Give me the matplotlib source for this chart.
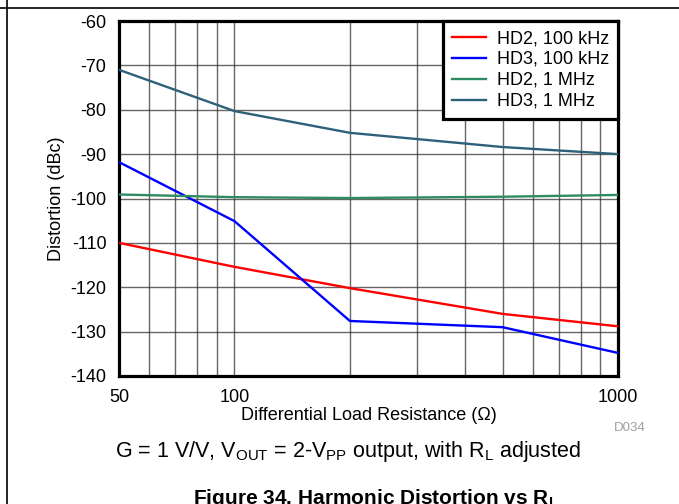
import matplotlib
matplotlib.use("Agg")
import matplotlib.pyplot as plt
from matplotlib.ticker import FixedLocator, NullFormatter

plt.rcParams['font.family'] = ['Liberation Sans', 'DejaVu Sans']

# load resistance (ohm)
r_load = [50, 100, 200, 500, 1000]
hd2_100k = [-110.0, -115.4, -120.2, -126.0, -128.8]
hd3_100k = [-91.8, -105.1, -127.6, -129.0, -134.8]
hd2_1m = [-99.1, -99.7, -99.9, -99.6, -99.2]
hd3_1m = [-71.0, -80.3, -85.2, -88.4, -90.0]

series = [
    ("HD2, 100 kHz", hd2_100k, "#ff0000"),
    ("HD3, 100 kHz", hd3_100k, "#0000ff"),
    ("HD2, 1 MHz", hd2_1m, "#2e8b62"),
    ("HD3, 1 MHz", hd3_1m, "#2f6079"),
]

x_major = [50, 100, 1000]
x_minor = [60, 70, 80, 90, 200, 300, 400, 500, 600, 700, 800, 900]
y_ticks = list(range(-140, -59, 10))

fig = plt.figure(figsize=(6.79, 5.04), dpi=100)
ax = fig.add_axes([119 / 679, 1 - 376 / 504, 499 / 679, 355 / 504])

for label, vals, col in series:
    ax.plot(r_load, vals, color=col, lw=1.7, label=label, zorder=3)

ax.set_xscale("log")
ax.set_xlim(50, 1000)
ax.set_ylim(-140, -60)
ax.xaxis.set_major_locator(FixedLocator(x_major))
ax.xaxis.set_major_formatter(plt.FuncFormatter(lambda v, p: f"{int(v)}"))
ax.xaxis.set_minor_locator(FixedLocator(x_minor))
ax.xaxis.set_minor_formatter(NullFormatter())
ax.set_yticks(y_ticks)
ax.set_yticklabels([str(v) for v in y_ticks])
ax.tick_params(which="both", length=0, labelsize=13, colors="black")
ax.tick_params(axis="x", pad=9)
ax.tick_params(axis="y", pad=9)
ax.grid(which="both", axis="both", color="#333333", lw=1.0, alpha=0.75, zorder=1)

for s in ax.spines.values():
    s.set_linewidth(2.3)
    s.set_color("black")

ax.set_xlabel("Differential Load Resistance (\u03a9)", fontsize=13, labelpad=1)
ax.set_ylabel("Distortion (dBc)", fontsize=13, labelpad=4)

leg = ax.legend(loc="upper right", fontsize=13, frameon=True, fancybox=False,
                borderaxespad=0, handlelength=1.9, handletextpad=0.6,
                labelspacing=0.22, borderpad=0.5, framealpha=1)
leg.get_frame().set_edgecolor("black")
leg.get_frame().set_linewidth(2.3)

fig.text(646 / 679, 1 - 428 / 504, "D034", color="#a0a0a0", fontsize=9.5,
         ha="right", va="center")
fig.text(348 / 679, 1 - 452 / 504,
         r"G = 1 V/V, V$_{\mathregular{OUT}}$ = 2-V$_{\mathregular{PP}}$ output, with R$_{\mathregular{L}}$ adjusted",
         fontsize=15.5, ha="center", va="center")
fig.text(376 / 679, 1 - 498 / 504, r"Figure 34. Harmonic Distortion vs R$_{\mathregular{L}}$",
         fontsize=15, fontweight="bold", ha="center", va="center")

# page frame lines
fig.add_artist(plt.Line2D([0, 1], [1 - 8 / 504, 1 - 8 / 504], color="black", lw=1.2,
                          transform=fig.transFigure))
fig.add_artist(plt.Line2D([7 / 679, 7 / 679], [0, 1], color="black", lw=1.2,
                          transform=fig.transFigure))

fig.savefig("out.png", dpi=100)
